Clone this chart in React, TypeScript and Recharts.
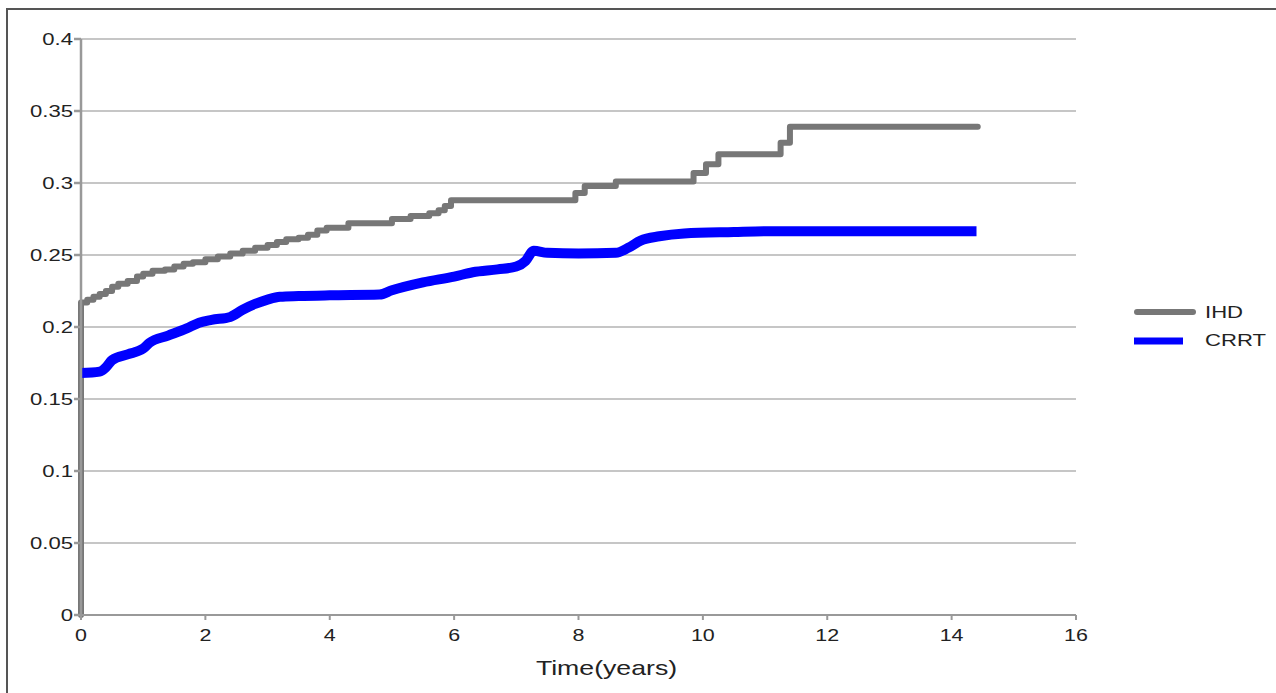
import React from 'react';
import { LineChart, Line, XAxis, YAxis, CartesianGrid } from 'recharts';

const ihdTimes = [0, 0, 0.1, 0.2, 0.3, 0.4, 0.5, 0.6, 0.75, 0.9, 1.0, 1.15, 1.35, 1.5, 1.65, 1.8, 2.0, 2.2, 2.4, 2.6, 2.8, 3.0, 3.15, 3.3, 3.5, 3.65, 3.8, 3.95, 4.3, 5.0, 5.3, 5.6, 5.75, 5.85, 5.95, 7.95, 8.1, 8.6, 9.85, 10.05, 10.25, 11.25, 11.4, 14.42];
const ihdValues = [0, 0.217, 0.219, 0.221, 0.223, 0.225, 0.228, 0.23, 0.232, 0.235, 0.237, 0.239, 0.24, 0.242, 0.244, 0.245, 0.247, 0.249, 0.251, 0.253, 0.255, 0.257, 0.259, 0.261, 0.262, 0.264, 0.267, 0.269, 0.272, 0.275, 0.277, 0.279, 0.281, 0.284, 0.288, 0.293, 0.298, 0.301, 0.307, 0.313, 0.32, 0.328, 0.339, 0.339];

const crrtTimes = [0, 0.3, 0.4, 0.5, 0.75, 1.0, 1.1, 1.4, 1.7, 1.9, 2.1, 2.4, 2.6, 2.8, 3.0, 3.2, 3.5, 4.0, 4.8, 5.0, 5.5, 6.0, 6.3, 6.7, 7.0, 7.15, 7.28, 7.5, 8.0, 8.6, 8.8, 9.0, 9.3, 9.7, 10.5, 11.0, 14.4];
const crrtValues = [0.168, 0.169, 0.172, 0.177, 0.181, 0.185, 0.189, 0.194, 0.199, 0.203, 0.205, 0.207, 0.212, 0.216, 0.219, 0.221, 0.2215, 0.222, 0.2225, 0.2255, 0.231, 0.235, 0.238, 0.24, 0.242, 0.246, 0.253, 0.2515, 0.251, 0.2515, 0.255, 0.26, 0.263, 0.265, 0.266, 0.2665, 0.2665];

const yTicks = [0, 0.05, 0.1, 0.15, 0.2, 0.25, 0.3, 0.35, 0.4];
const yTickLabels = ['0', '0.05', '0.1', '0.15', '0.2', '0.25', '0.3', '0.35', '0.4'];
const xTicks = [0, 2, 4, 6, 8, 10, 12, 14, 16];
const seriesNames = ['IHD', 'CRRT'];
const seriesColors = ['#777777', '#0000ff'];
const xAxisTitle = 'Time(years)';

const ihdData = ihdTimes.map((t, i) => ({ t, v: ihdValues[i] }));
const crrtData = crrtTimes.map((t, i) => ({ t, v: crrtValues[i] }));

const FONT = '"Liberation Sans", Arial, sans-serif';
const TEXT = '#222';
const STRETCH = 1.3;

const YTick = (props: any) => {
  const { x, y, payload } = props;
  const idx = yTicks.indexOf(payload.value);
  const label = idx >= 0 ? yTickLabels[idx] : String(payload.value);
  return (
    <g transform={`translate(${x},${y}) scale(${STRETCH},1)`}>
      <text x={0} y={0} dy="0.35em" textAnchor="end" fontSize={17} fill={TEXT} fontFamily={FONT}>
        {label}
      </text>
    </g>
  );
};

const XTick = (props: any) => {
  const { x, y, payload } = props;
  return (
    <g transform={`translate(${x},${y}) scale(${STRETCH},1)`}>
      <text x={0} y={0} dy="0.71em" textAnchor="middle" fontSize={16.5} fill={TEXT} fontFamily={FONT}>
        {payload.value}
      </text>
    </g>
  );
};

const XLabel = (props: any) => {
  const vb = props.viewBox || { x: 81, y: 615, width: 995, height: 78 };
  const cx = vb.x + vb.width / 2 + 28;
  return (
    <g transform={`translate(${cx},${675}) scale(1.27,1)`}>
      <text x={0} y={0} textAnchor="middle" fontSize={21} fill={TEXT} fontFamily={FONT}>
        {xAxisTitle}
      </text>
    </g>
  );
};

const LegendBox = () => (
  <svg width={146} height={60} style={{ position: 'absolute', left: 1130, top: 298, display: 'block' }}>
    <line x1={7} x2={63} y1={14} y2={14} stroke={seriesColors[0]} strokeWidth={6} strokeLinecap="round" />
    <g transform={`translate(75,14) scale(${STRETCH},1)`}>
      <text x={0} y={0} dy="0.35em" fontSize={17} fill={TEXT} fontFamily={FONT}>{seriesNames[0]}</text>
    </g>
    <line x1={4} x2={53} y1={43} y2={43} stroke={seriesColors[1]} strokeWidth={7} />
    <g transform={`translate(75,42) scale(${STRETCH},1)`}>
      <text x={0} y={0} dy="0.35em" fontSize={17} fill={TEXT} fontFamily={FONT}>{seriesNames[1]}</text>
    </g>
  </svg>
);

export default function App() {
  return (
    <div style={{ position: 'absolute', left: 0, top: 0, width: 1276, height: 693, background: '#fff', overflow: 'hidden' }}>
      <LineChart width={1276} height={693} margin={{ top: 39, right: 200, bottom: 0, left: 0 }}>
        <CartesianGrid vertical={false} stroke="#b3b3b3" strokeWidth={1.3} />
        <XAxis
          dataKey="t"
          type="number"
          domain={[0, 16]}
          ticks={xTicks}
          interval={0}
          height={78}
          tickSize={5}
          tickMargin={9}
          stroke="#999999"
          strokeWidth={2}
          tick={<XTick />}
          allowDuplicatedCategory={false}
          label={<XLabel />}
        />
        <YAxis
          type="number"
          domain={[0, 0.4]}
          ticks={yTicks}
          interval={0}
          width={81}
          tickSize={7}
          tickMargin={1}
          stroke="#999999"
          strokeWidth={2.5}
          tick={<YTick />}
        />
        <Line
          data={ihdData}
          dataKey="v"
          name={seriesNames[0]}
          type="stepAfter"
          stroke={seriesColors[0]}
          strokeWidth={6}
          strokeLinecap="round"
          strokeLinejoin="round"
          dot={false}
          activeDot={false}
          isAnimationActive={false}
        />
        <Line
          data={crrtData}
          dataKey="v"
          name={seriesNames[1]}
          type="monotone"
          stroke={seriesColors[1]}
          strokeWidth={10}
          strokeLinecap="butt"
          strokeLinejoin="round"
          dot={false}
          activeDot={false}
          isAnimationActive={false}
        />
      </LineChart>
      <LegendBox />
      <div
        style={{
          position: 'absolute',
          left: 6,
          top: 8,
          width: 1300,
          height: 720,
          borderTop: '2.5px solid #555',
          borderLeft: '2.5px solid #555',
          pointerEvents: 'none',
          boxSizing: 'border-box',
        }}
      />
    </div>
  );
}
